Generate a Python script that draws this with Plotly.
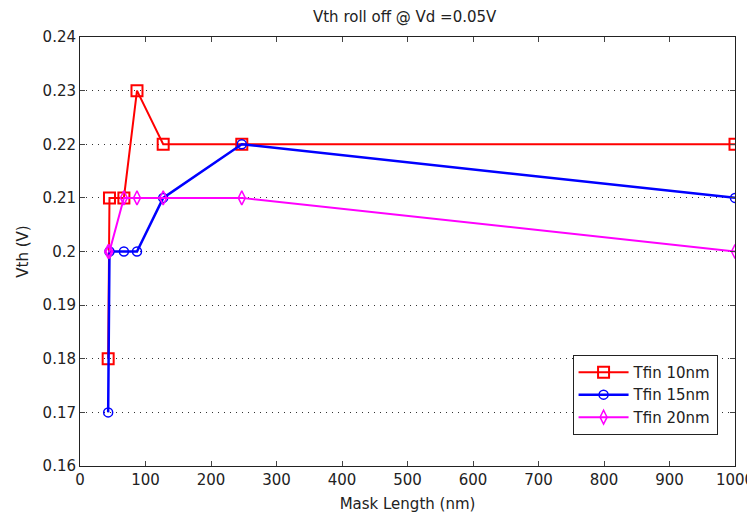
import plotly.graph_objects as go

mask_length = [43, 45, 67, 87, 127, 247, 1000]
tfin10 = [0.18, 0.21, 0.21, 0.23, 0.22, 0.22, 0.22]
tfin15 = [0.17, 0.20, 0.20, 0.20, 0.21, 0.22, 0.21]
tfin20 = [0.20, 0.20, 0.21, 0.21, 0.21, 0.21, 0.20]

x_ticks = [0, 100, 200, 300, 400, 500, 600, 700, 800, 900, 1000]
y_ticks = [0.16, 0.17, 0.18, 0.19, 0.20, 0.21, 0.22, 0.23, 0.24]
y_labels = ["0.16", "0.17", "0.18", "0.19", "0.2", "0.21", "0.22", "0.23", "0.24"]

FONT = "DejaVu Sans, sans-serif"
TXT = "#222222"

fig = go.Figure()
fig.add_trace(go.Scatter(x=mask_length, y=tfin10, name="Tfin 10nm", mode="lines+markers",
                         line=dict(color="#ff0000", width=2),
                         marker=dict(symbol="square-open", size=11, color="#ff0000",
                                     line=dict(width=2, color="#ff0000"))))
fig.add_trace(go.Scatter(x=mask_length, y=tfin15, name="Tfin 15nm", mode="lines+markers",
                         line=dict(color="#0000ff", width=2.5),
                         marker=dict(symbol="circle-open", size=9, color="#0000ff",
                                     line=dict(width=1.5, color="#0000ff"))))
fig.add_trace(go.Scatter(x=mask_length, y=tfin20, name="Tfin 20nm", mode="lines+markers",
                         line=dict(color="#ff00ff", width=2),
                         marker=dict(symbol="diamond-tall-open", size=10, color="#ff00ff",
                                     line=dict(width=1.5, color="#ff00ff"))))

# page body has an 8px default margin, so the figure is sized to fill the rest
fig.update_layout(
    width=747, height=510,
    margin=dict(l=72, r=20, t=29, b=52),
    paper_bgcolor="white", plot_bgcolor="white",
    font=dict(family=FONT, size=15, color=TXT),
    title=dict(text="Vth roll off @ Vd =0.05V", x=0.531, xanchor="center", y=0.982, yanchor="middle",
               font=dict(family=FONT, size=15, color=TXT)),
    showlegend=True,
    legend=dict(x=0.752, y=0.259, xanchor="left", yanchor="top",
                bgcolor="white", bordercolor="#222222", borderwidth=1,
                font=dict(family=FONT, size=15, color=TXT),
                tracegroupgap=0, itemwidth=50, entrywidth=126, entrywidthmode="pixels"),
    xaxis=dict(range=[0, 1000], tickvals=x_ticks, ticks="inside", ticklen=5,
               showline=True, linecolor="#222222", linewidth=1, mirror="ticks",
               showgrid=False, zeroline=False, automargin=False,
               ticklabeloverflow="allow",
               title=dict(text="Mask Length (nm)", standoff=10, font=dict(size=15)),
               tickfont=dict(size=15)),
    yaxis=dict(range=[0.16, 0.24], tickvals=y_ticks, ticktext=y_labels, ticks="inside", ticklen=5,
               showline=True, linecolor="#222222", linewidth=1, mirror="ticks",
               showgrid=True, gridcolor="#333333", griddash="1px,5px", gridwidth=1, zeroline=False,
               automargin=False,
               title=dict(text="Vth (V)", standoff=10, font=dict(size=15)),
               tickfont=dict(size=15)),
)

fig.write_html("out.html")
